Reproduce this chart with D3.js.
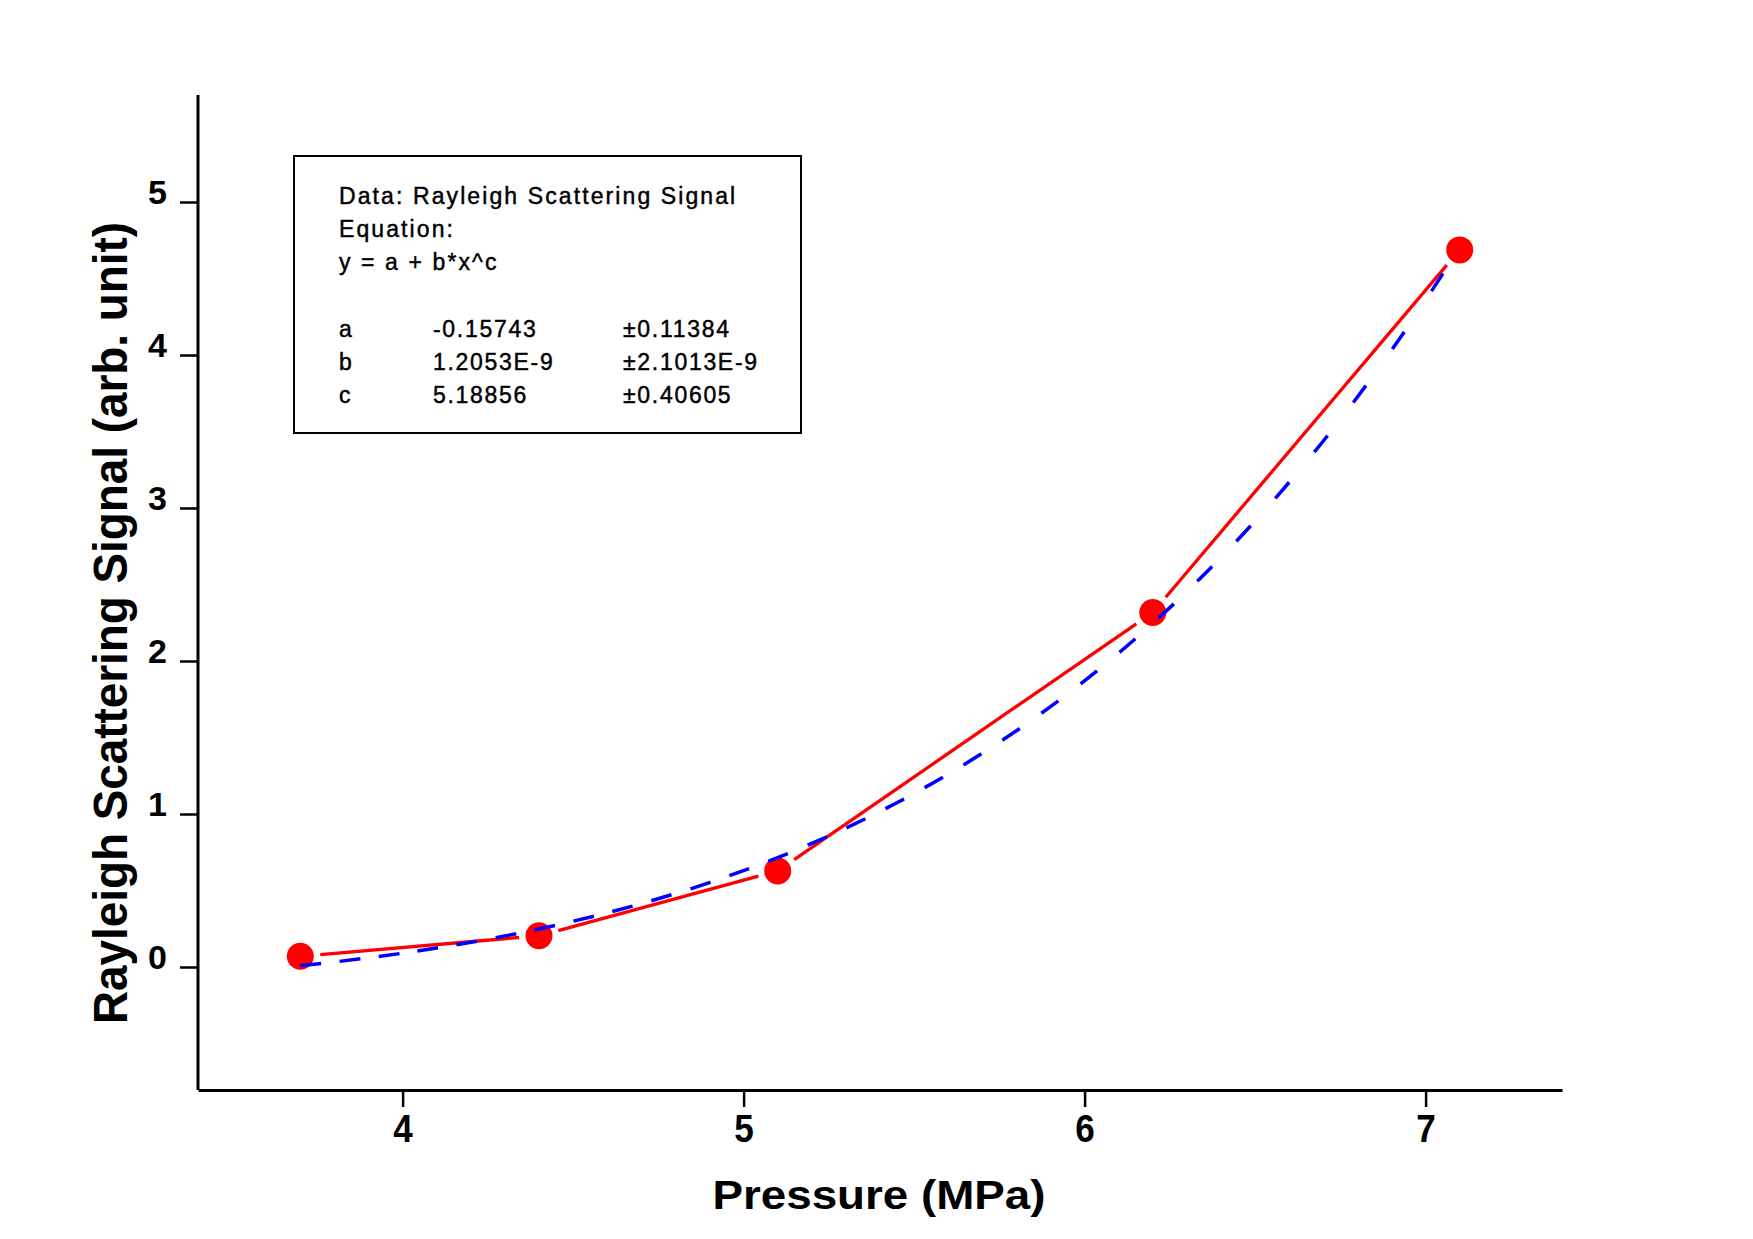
<!DOCTYPE html>
<html>
<head>
<meta charset="utf-8">
<script src="https://cdn.jsdelivr.net/npm/d3@7"></script>
<style>
  html, body { margin: 0; padding: 0; background: #ffffff; }
  svg { display: block; font-family: "Liberation Sans", Arial, sans-serif; }
</style>
</head>
<body>
<svg id="chart" width="1753" height="1239"></svg>
<script>
// ---- data ----
const pressure = [3.7, 4.4, 5.1, 6.2, 7.1];              // MPa
const signal   = [0.07, 0.204, 0.628, 2.317, 4.687];      // arb. unit
// fitted curve y = a + b*x^c
const fitPressure = [3.7, 3.9, 4.1, 4.3, 4.5, 4.7, 4.9, 5.1, 5.3, 5.5, 5.7, 5.9, 6.1, 6.3, 6.5, 6.7, 6.9, 7.1];
const fitSignal   = [0.008, 0.060, 0.124, 0.203, 0.299, 0.414, 0.552, 0.715, 0.908, 1.134, 1.397, 1.702, 2.052, 2.455, 2.915, 3.438, 4.031, 4.701];
const xTicks = [4, 5, 6, 7];
const yTicks = [0, 1, 2, 3, 4, 5];
const xTitle = "Pressure (MPa)";
const yTitle = "Rayleigh Scattering Signal (arb. unit)";
const infoLines = ["Data: Rayleigh Scattering Signal", "Equation:", "y = a + b*x^c"];
const paramNames  = ["a", "b", "c"];
const paramValues = ["-0.15743", "1.2053E-9", "5.18856"];
const paramErrors = ["\u00B10.11384", "\u00B12.1013E-9", "\u00B10.40605"];

// ---- layout ----
const svg = d3.select("#chart");
const plotLeft = 198, plotRight = 1562, plotTop = 95, plotBottom = 1090;
const x = d3.scaleLinear().domain([3.4, 7.4]).range([plotLeft, plotRight]);
const y = d3.scaleLinear().domain([-0.8, 5.7]).range([1089.4, 94.9]);

svg.append("rect").attr("width", 1753).attr("height", 1239).attr("fill", "#fff");

// axes
const xAxis = svg.append("g").attr("transform", `translate(0,${plotBottom})`)
  .call(d3.axisBottom(x).tickValues(xTicks).tickFormat(d3.format("d")).tickSize(17).tickSizeOuter(0));
xAxis.select(".domain").attr("stroke", "#000").attr("stroke-width", 3);
xAxis.selectAll(".tick line").attr("stroke", "#000").attr("stroke-width", 2.5);
xAxis.selectAll(".tick text")
  .attr("y", 52).attr("dy", 0)
  .attr("transform", "scale(0.9,1)")
  .attr("fill", "#000")
  .style("font-size", "39px").style("font-weight", "bold")
  .style("font-family", "'Liberation Sans', Arial, sans-serif");

const yAxis = svg.append("g").attr("transform", `translate(${plotLeft},0)`)
  .call(d3.axisLeft(y).tickValues(yTicks).tickFormat(d3.format("d")).tickSize(18).tickPadding(13).tickSizeOuter(0));
yAxis.select(".domain").attr("stroke", "#000").attr("stroke-width", 3)
  .attr("d", `M0,${plotBottom}V${plotTop}`);
yAxis.selectAll(".tick line").attr("stroke", "#000").attr("stroke-width", 2.5);
yAxis.selectAll(".tick text")
  .attr("dy", 0).attr("y", 1)
  .attr("fill", "#000")
  .style("font-size", "34px").style("font-weight", "bold")
  .style("font-family", "'Liberation Sans', Arial, sans-serif");

// axis titles
svg.append("text")
  .attr("x", 879).attr("y", 1209)
  .attr("text-anchor", "middle")
  .attr("textLength", 333).attr("lengthAdjust", "spacingAndGlyphs")
  .style("font-size", "40px").style("font-weight", "bold")
  .text(xTitle);

svg.append("text")
  .attr("transform", "translate(127,623) rotate(-90)")
  .attr("text-anchor", "middle")
  .attr("textLength", 802).attr("lengthAdjust", "spacingAndGlyphs")
  .style("font-size", "48px").style("font-weight", "bold")
  .text(yTitle);

// ---- red data line (with gaps around symbols) ----
const pts = pressure.map((p, i) => [x(p), y(signal[i])]);
const gap = 20;
svg.append("g").selectAll("line").data(d3.pairs(pts)).join("line")
  .each(function([a, b]) {
    const dx = b[0] - a[0], dy = b[1] - a[1], len = Math.hypot(dx, dy);
    const ux = dx / len, uy = dy / len;
    d3.select(this)
      .attr("x1", a[0] + ux * gap).attr("y1", a[1] + uy * gap)
      .attr("x2", b[0] - ux * gap).attr("y2", b[1] - uy * gap);
  })
  .attr("stroke", "#ff0000").attr("stroke-width", 3.3);

svg.append("g").selectAll("circle").data(pts).join("circle")
  .attr("cx", d => d[0]).attr("cy", d => d[1]).attr("r", 13.5)
  .attr("fill", "#ff0000");

// ---- blue dashed fit curve ----
const fitPath = svg.append("path")
  .datum(fitPressure.map((p, i) => [p, fitSignal[i]]))
  .attr("d", d3.line().x(d => x(d[0])).y(d => y(d[1])).curve(d3.curveMonotoneX))
  .attr("fill", "none").attr("stroke", "#0000ff").attr("stroke-width", 3.5);
(function () {
  const node = fitPath.node();
  const total = node.getTotalLength();
  const dashLen = 21, stepX = 39;
  const starts = [];
  let next = node.getPointAtLength(0).x;
  for (let l = 0; l <= total; l += 0.5) {
    const px = node.getPointAtLength(l).x;
    if (px >= next) { starts.push(l); next += stepX; }
  }
  const arr = [];
  starts.forEach((s, i) => {
    const nxt = i + 1 < starts.length ? starts[i + 1] : total + 200;
    arr.push(dashLen, Math.max(1, nxt - s - dashLen));
  });
  fitPath.attr("stroke-dasharray", arr.join(","));
})();

// ---- info box ----
const box = svg.append("g");
box.append("rect").attr("x", 294).attr("y", 156).attr("width", 507).attr("height", 277)
  .attr("fill", "#fff").attr("stroke", "#000").attr("stroke-width", 2);
const lineStep = 33.3, firstBase = 203.5;
const txt = sel => sel.style("font-size", "23px").style("letter-spacing", "2.1px")
  .attr("fill", "#000").attr("stroke", "#000").attr("stroke-width", 0.45);
box.selectAll("text.info").data(infoLines).join("text").attr("class", "info")
  .attr("x", 339).attr("y", (d, i) => firstBase + i * lineStep).call(txt).text(d => d);
box.selectAll("text.pn").data(paramNames).join("text").attr("class", "pn")
  .attr("x", 339).attr("y", (d, i) => firstBase + (i + 4) * lineStep).call(txt).text(d => d);
box.selectAll("text.pv").data(paramValues).join("text").attr("class", "pv")
  .attr("x", 433).attr("y", (d, i) => firstBase + (i + 4) * lineStep).call(txt)
  .style("letter-spacing", "1.7px").text(d => d);
box.selectAll("text.pe").data(paramErrors).join("text").attr("class", "pe")
  .attr("x", 623).attr("y", (d, i) => firstBase + (i + 4) * lineStep).call(txt)
  .style("letter-spacing", "1.7px").text(d => d);
</script>
</body>
</html>
